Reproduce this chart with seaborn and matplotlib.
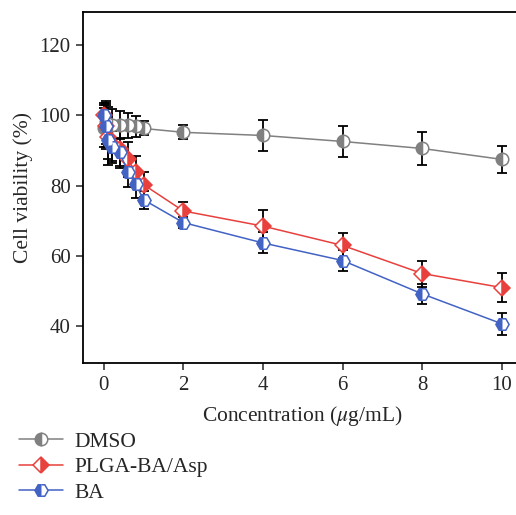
import matplotlib
matplotlib.use("Agg")
import matplotlib.pyplot as plt
import numpy as np
import pandas as pd
import seaborn as sns

GREY = "#808080"
RED = "#e8403c"
BLUE = "#4262c4"

# concentrations (ug/mL)
conc = [0, 0.05, 0.1, 0.2, 0.4, 0.6, 0.8, 1, 2, 4, 6, 8, 10]

dmso = [96.5, 98.0, 97.5, 97.3, 97.2, 97.2, 96.9, 96.3, 95.2, 94.3, 92.6, 90.6, 87.5]
dmso_sd = [5.5, 6.0, 5.0, 4.5, 4.0, 3.5, 3.0, 2.0, 2.0, 4.4, 4.5, 4.8, 3.9]

plga = [100.0, 97.0, 94.0, 92.0, 90.5, 87.5, 84.0, 80.3, 72.8, 68.5, 63.0, 55.0, 51.0]
plga_sd = [3.0, 6.0, 6.5, 5.0, 5.5, 5.0, 4.5, 3.5, 2.5, 4.5, 3.5, 3.7, 4.1]

ba = [100.0, 97.0, 93.0, 91.0, 89.5, 84.0, 80.5, 76.0, 69.5, 63.7, 58.7, 49.2, 40.7]
ba_sd = [3.5, 6.5, 7.0, 4.5, 4.0, 4.5, 4.0, 2.5, 1.5, 3.0, 3.0, 2.8, 3.1]

series = [
    ("DMSO", dmso, dmso_sd, GREY, "o", "left", 9),
    ("PLGA-BA/Asp", plga, plga_sd, RED, "D", "right", 8.5),
    ("BA", ba, ba_sd, BLUE, "H", "left", 9.5),
]

sns.set_style("ticks")
plt.rcParams["font.family"] = ["Liberation Serif", "DejaVu Serif"]
plt.rcParams["mathtext.fontset"] = "stix"

fig = plt.figure(figsize=(5.16, 5.15), dpi=100)
ax = fig.add_axes([0.161, 0.295, 0.85, 0.682])

for name, vals, sd, color, marker, fill, ms in series:
    df = pd.DataFrame({"conc": conc, "viability": vals})
    ax.errorbar(df["conc"], df["viability"], yerr=sd, fmt="none",
                ecolor="black", elinewidth=1.3, capsize=3.5, capthick=1.3,
                zorder=2)
    sns.lineplot(data=df, x="conc", y="viability", ax=ax, color=color,
                 linewidth=1.1, marker=marker, markersize=ms,
                 fillstyle=fill, markerfacecolor=color,
                 markerfacecoloralt="white", markeredgecolor=color,
                 markeredgewidth=1.1, label=name, zorder=3)

ax.set_xlim(-0.52, 10.5)
ax.set_ylim(29.5, 129.5)
ax.set_xticks([0, 2, 4, 6, 8, 10])
ax.set_yticks([40, 60, 80, 100, 120])
ax.tick_params(labelsize=15, width=1.1, length=5, direction="out", pad=4)
ax.set_xlabel(r"Concentration ($\mu$g/mL)", fontsize=15.5, labelpad=7)
ax.set_ylabel("Cell viability (%)", fontsize=15.5, labelpad=5)

for side in ["left", "bottom", "top"]:
    ax.spines[side].set_linewidth(1.3)
    ax.spines[side].set_color("black")
ax.spines["right"].set_visible(False)

handles, labels = ax.get_legend_handles_labels()
ax.get_legend().remove()
fig.legend(handles, labels, loc="upper left", bbox_to_anchor=(0.021, 0.178),
           frameon=False, fontsize=15.5, handlelength=2.0,
           handletextpad=0.55, labelspacing=0.25, borderaxespad=0)

fig.savefig("out.png", dpi=100)
